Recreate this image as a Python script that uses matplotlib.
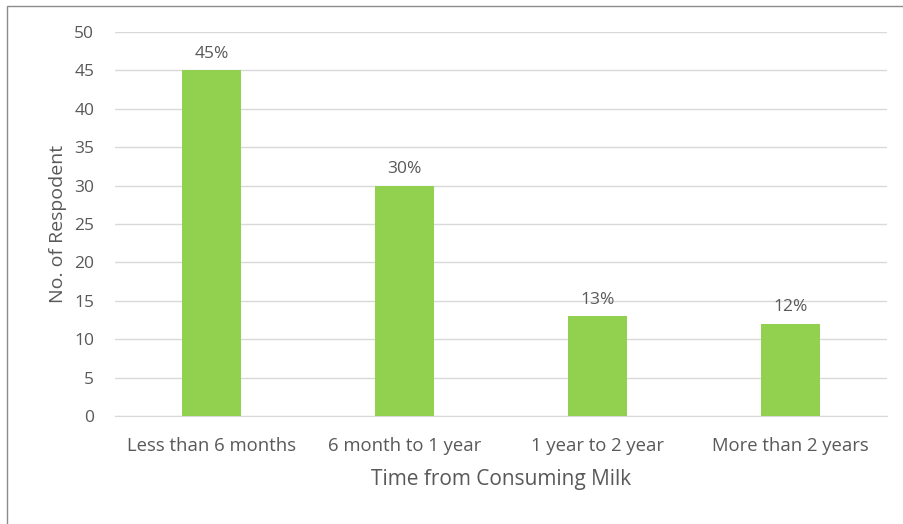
import matplotlib.pyplot as plt
from matplotlib.patches import Rectangle

# survey: how long respondents have been consuming milk
categories = ["Less than 6 months", "6 month to 1 year", "1 year to 2 year", "More than 2 years"]
respondents = [45, 30, 13, 12]
pct_labels = ["45%", "30%", "13%", "12%"]

plt.rcParams['font.family'] = ['Open Sans', 'DejaVu Sans']
text_col = "#595959"

fig = plt.figure(figsize=(9.04, 5.24), dpi=100)
ax = fig.add_axes([115 / 904, 1 - 416 / 524, (887 - 115) / 904, (416 - 32) / 524])

x = range(len(categories))
ax.bar(x, respondents, width=0.31, color="#92D050", zorder=3)
for xi, v, lab in zip(x, respondents, pct_labels):
    ax.text(xi, v + 1.1, lab, ha="center", va="bottom", fontsize=12.5, color=text_col)

ax.set_xlim(-0.5, len(categories) - 0.5)
ax.set_ylim(0, 50)
ax.set_yticks(range(0, 51, 5))
ax.set_xticks(list(x))
ax.set_xticklabels(categories)
ax.grid(axis="y", color="#D9D9D9", linewidth=1, zorder=0)
for s in ["top", "right", "left"]:
    ax.spines[s].set_visible(False)
ax.spines["bottom"].set_color("#D9D9D9")
ax.tick_params(axis="both", length=0, labelsize=12.5, labelcolor=text_col)
ax.tick_params(axis="x", labelsize=13.3, pad=15)
ax.tick_params(axis="y", pad=15)

ax.set_xlabel("Time from Consuming Milk", fontsize=15, color=text_col, labelpad=10)
ax.set_ylabel("No. of Respodent", fontsize=14, color=text_col, labelpad=5)

# chart frame
fig.patches.append(Rectangle((7 / 904, -0.1), 1.2, 1 - 6 / 524 + 0.1, transform=fig.transFigure,
                             fill=False, edgecolor="#8c8c8c", linewidth=1))

fig.savefig("out.png", dpi=100)
